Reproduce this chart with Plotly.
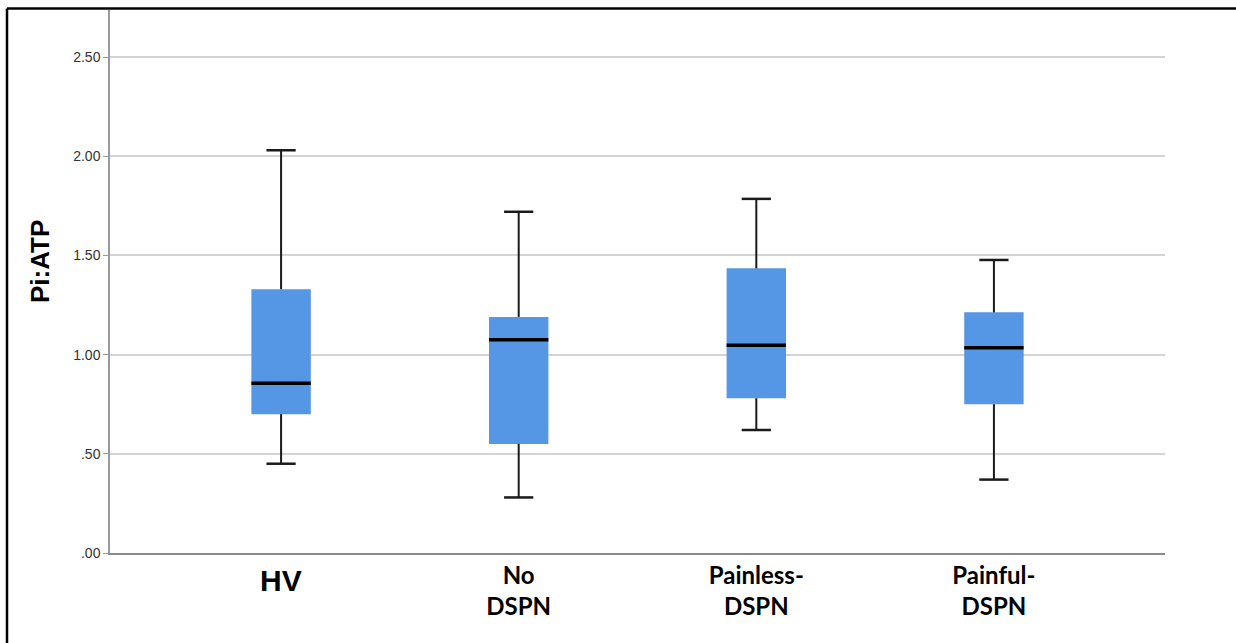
import plotly.graph_objects as go

# Box-plot summary statistics per group
groups = ["HV", "No DSPN", "Painless-DSPN", "Painful-DSPN"]
tick_labels = ["", "No<br>DSPN", "Painless-<br>DSPN", "Painful-<br>DSPN"]
lower_whisker = [0.45, 0.28, 0.62, 0.37]
q1 = [0.70, 0.55, 0.78, 0.75]
median = [0.855, 1.075, 1.047, 1.035]
q3 = [1.33, 1.19, 1.435, 1.213]
upper_whisker = [2.03, 1.72, 1.785, 1.477]
y_ticks = [0.0, 0.5, 1.0, 1.5, 2.0, 2.5]
y_tick_text = [".00", ".50", "1.00", "1.50", "2.00", "2.50"]

BOX_FILL = "#5596e5"
BOX_W = 0.25
CAP_W = 0.123

xs = list(range(len(groups)))
fig = go.Figure()

# Interquartile boxes
fig.add_trace(go.Bar(
    x=xs, y=[b - a for a, b in zip(q1, q3)], base=q1, width=BOX_W,
    marker=dict(color=BOX_FILL, line=dict(width=0)), hoverinfo="skip",
))

# Whiskers (outside the boxes), end caps and medians
wx, wy, cx, cy, mx, my = [], [], [], [], [], []
for i in xs:
    wx += [i, i, None, i, i, None]
    wy += [q3[i], upper_whisker[i], None, q1[i], lower_whisker[i], None]
    for v in (upper_whisker[i], lower_whisker[i]):
        cx += [i - CAP_W / 2, i + CAP_W / 2, None]
        cy += [v, v, None]
    mx += [i - BOX_W / 2, i + BOX_W / 2, None]
    my += [median[i], median[i], None]

fig.add_trace(go.Scatter(x=wx, y=wy, mode="lines",
                         line=dict(color="#1a1a1a", width=2), hoverinfo="skip"))
fig.add_trace(go.Scatter(x=cx, y=cy, mode="lines",
                         line=dict(color="#1a1a1a", width=2.5), hoverinfo="skip"))
fig.add_trace(go.Scatter(x=mx, y=my, mode="lines",
                         line=dict(color="#000000", width=3.5), hoverinfo="skip"))

PL, PR, PT, PB = 110, 71, 10, 90
W, H = 1236, 643
pw, ph = W - PL - PR, H - PT - PB

def px_to_paper_x(px):
    return (px - PL) / pw

def px_to_paper_y(py):
    return (H - PB - py) / ph

fig.update_layout(
    width=W, height=H,
    margin=dict(l=PL, r=PR, t=PT, b=PB),
    paper_bgcolor="white", plot_bgcolor="white",
    showlegend=False,
    xaxis=dict(
        range=[-0.72, 3.72], tickvals=xs, ticktext=tick_labels,
        showgrid=False, zeroline=False,
        showline=True, linecolor="#8a8a8a", linewidth=2,
        ticks="", tickfont=dict(family="Lato", size=24, color="black", weight="bold"),
    ),
    yaxis=dict(
        range=[0, 2.737], tickvals=y_ticks, ticktext=y_tick_text,
        showgrid=True, gridcolor="#d4d4d4", gridwidth=1.5,
        zeroline=False, showline=True, linecolor="#9a9a9a", linewidth=1.5,
        ticks="outside", ticklen=5, tickcolor="#9a9a9a",
        tickfont=dict(family="Liberation Sans", size=14, color="#333333"),
    ),
    annotations=[
        dict(text="<b>Pi:ATP</b>", textangle=-90, showarrow=False,
             xref="paper", yref="paper",
             x=px_to_paper_x(40), y=px_to_paper_y(262),
             xanchor="center", yanchor="middle",
             font=dict(family="Liberation Sans", size=26, color="black")),
        dict(text="<b>" + groups[0] + "</b>", showarrow=False,
             xref="x", yref="paper", x=xs[0], y=px_to_paper_y(580),
             xanchor="center", yanchor="middle",
             font=dict(family="Liberation Sans", size=30, color="black")),
    ],
    shapes=[
        # outer frame: top and left edges
        dict(type="line", xref="paper", yref="paper",
             x0=px_to_paper_x(7), x1=px_to_paper_x(1236),
             y0=px_to_paper_y(8.5), y1=px_to_paper_y(8.5),
             line=dict(color="black", width=2.5)),
        dict(type="line", xref="paper", yref="paper",
             x0=px_to_paper_x(7), x1=px_to_paper_x(7),
             y0=px_to_paper_y(8.5), y1=px_to_paper_y(650),
             line=dict(color="black", width=2.5)),
    ],
)

fig.write_html("out.html")
